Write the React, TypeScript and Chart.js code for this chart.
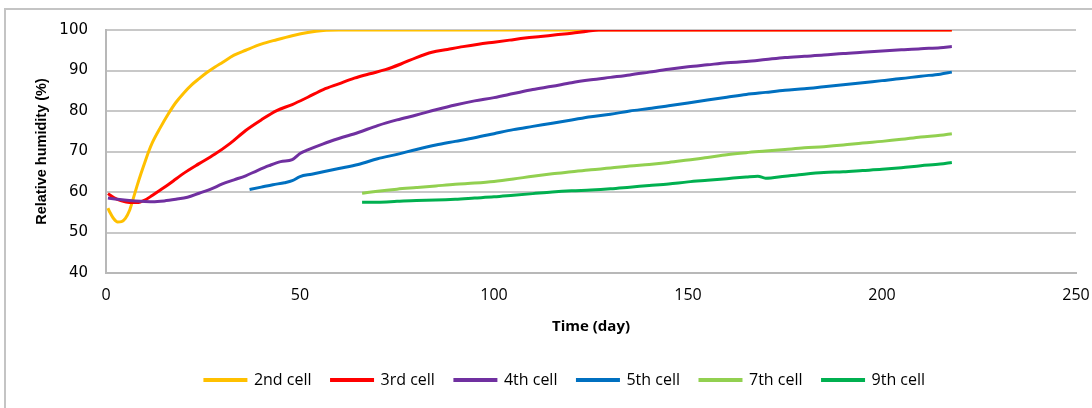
import React, { useEffect, useRef } from "react";
import { Chart, registerables } from "chart.js";

Chart.register(...registerables);

// ---- Data ----
const seriesLabels = ["2nd cell", "3rd cell", "4th cell", "5th cell", "7th cell", "9th cell"];
const seriesColors = ["#FFC000", "#FF0000", "#7030A0", "#0070C0", "#92D050", "#00B050"];

const cell2Days = [0.5, 1, 2, 3, 4, 5, 6, 7, 8, 9, 10, 11, 12, 14, 16, 18, 20, 22, 24, 26, 28, 30, 33, 36, 40, 44, 48, 52, 56, 60, 218];
const cell2RH = [56.0, 55.0, 53.4, 52.6, 52.7, 53.5, 55.3, 58.3, 61.5, 64.5, 67.3, 70.0, 72.3, 75.9, 79.2, 82.1, 84.4, 86.4, 88.0, 89.5, 90.8, 92.0, 93.8, 95.0, 96.5, 97.6, 98.6, 99.4, 99.9, 100, 100];

const cell3Days = [0.5, 2, 4, 6, 8, 10, 12, 14, 16, 18, 20, 24, 28, 32, 36, 40, 44, 48, 52, 56, 60, 64, 68, 72, 76, 80, 84, 88, 92, 96, 100, 104, 108, 112, 116, 120, 124, 127, 218];
const cell3RH = [59.6, 58.6, 57.8, 57.4, 57.4, 58.0, 59.2, 60.5, 61.8, 63.2, 64.6, 67.0, 69.3, 72.0, 75.2, 77.8, 80.1, 81.6, 83.4, 85.3, 86.7, 88.1, 89.2, 90.2, 91.6, 93.2, 94.5, 95.2, 95.9, 96.5, 97.0, 97.5, 98.0, 98.4, 98.8, 99.2, 99.7, 100, 100];

const cell4Days = [0.5, 3, 6, 9, 12, 15, 18, 21, 24, 27, 30, 33, 36, 39, 42, 45, 48, 50, 52, 56, 60, 65, 70, 75, 80, 85, 90, 95, 100, 105, 110, 115, 120, 125, 130, 135, 140, 145, 150, 155, 160, 165, 170, 175, 180, 185, 190, 195, 200, 205, 210, 215, 218];
const cell4RH = [58.5, 58.2, 57.9, 57.7, 57.6, 57.8, 58.2, 58.7, 59.7, 60.7, 62.0, 63.0, 64.0, 65.3, 66.5, 67.5, 68.0, 69.5, 70.4, 71.9, 73.2, 74.7, 76.4, 77.8, 79.0, 80.3, 81.5, 82.5, 83.3, 84.3, 85.3, 86.1, 87.0, 87.7, 88.3, 88.9, 89.6, 90.3, 90.9, 91.4, 91.9, 92.2, 92.7, 93.2, 93.5, 93.8, 94.2, 94.5, 94.8, 95.1, 95.4, 95.6, 95.9];

const cell5Days = [37, 40, 43, 46, 48, 50, 53, 56, 60, 65, 70, 75, 80, 85, 90, 95, 100, 105, 110, 115, 120, 125, 130, 135, 140, 145, 150, 155, 160, 165, 170, 175, 180, 185, 190, 195, 200, 205, 210, 215, 218];
const cell5RH = [60.6, 61.2, 61.8, 62.3, 62.8, 63.8, 64.4, 65.0, 65.8, 66.8, 68.2, 69.3, 70.5, 71.6, 72.5, 73.4, 74.4, 75.4, 76.2, 77.0, 77.8, 78.6, 79.2, 80.0, 80.6, 81.3, 82.0, 82.7, 83.4, 84.1, 84.6, 85.1, 85.5, 86.0, 86.5, 87.0, 87.5, 88.0, 88.6, 89.1, 89.6];

const cell7Days = [66, 70, 75, 80, 85, 90, 95, 100, 105, 110, 115, 120, 125, 130, 135, 140, 145, 150, 155, 160, 165, 170, 175, 180, 185, 190, 195, 200, 205, 210, 215, 218];
const cell7RH = [59.7, 60.2, 60.7, 61.1, 61.5, 61.9, 62.2, 62.6, 63.2, 63.9, 64.5, 65.0, 65.5, 65.9, 66.4, 66.8, 67.3, 67.9, 68.5, 69.2, 69.7, 70.1, 70.5, 70.9, 71.2, 71.6, 72.1, 72.5, 73.0, 73.6, 74.0, 74.4];

const cell9Days = [66, 70, 75, 80, 85, 90, 95, 100, 105, 110, 115, 120, 125, 130, 135, 140, 145, 150, 155, 160, 165, 168, 170, 175, 180, 185, 190, 195, 200, 205, 210, 215, 218];
const cell9RH = [57.5, 57.5, 57.7, 57.9, 58.0, 58.2, 58.5, 58.8, 59.2, 59.6, 60.0, 60.3, 60.5, 60.8, 61.2, 61.6, 62.0, 62.5, 62.9, 63.3, 63.7, 63.9, 63.4, 63.9, 64.4, 64.8, 65.0, 65.3, 65.6, 66.0, 66.5, 66.9, 67.3];

const xTicks = [0, 50, 100, 150, 200, 250];
const yTicks = [40, 50, 60, 70, 80, 90, 100];

const allDays = [cell2Days, cell3Days, cell4Days, cell5Days, cell7Days, cell9Days];
const allRH = [cell2RH, cell3RH, cell4RH, cell5RH, cell7RH, cell9RH];

const legendShift = {
  id: "legendShift",
  afterLayout(chart: any) {
    const lg = chart.legend;
    if (lg) {
      lg.left += 17;
      lg.right += 17;
    }
  },
};

export default function App() {
  const ref = useRef<HTMLCanvasElement | null>(null);

  useEffect(() => {
    if (!ref.current) return;
    const datasets = seriesLabels.map((label, i) => ({
      label,
      data: allDays[i].map((d, j) => ({ x: d, y: allRH[i][j] })),
      borderColor: seriesColors[i],
      backgroundColor: seriesColors[i],
      borderWidth: 3,
      pointRadius: 0,
      cubicInterpolationMode: "monotone" as const,
      order: seriesLabels.length - i,
      clip: 0,
    }));
    const chart = new Chart(ref.current, {
      type: "line",
      data: { datasets },
      plugins: [legendShift],
      options: {
        animation: false,
        responsive: false,
        devicePixelRatio: 1,
        layout: { padding: { left: 20, right: 16, top: 30, bottom: 10 } },
        scales: {
          x: {
            type: "linear",
            min: 0,
            max: 250,
            afterBuildTicks: (axis: any) => {
              axis.ticks = xTicks.map((v) => ({ value: v }));
            },
            afterFit: (axis: any) => {
              axis.paddingLeft = 0;
              axis.paddingRight = 16;
            },
            grid: { display: false, drawTicks: false },
            border: { display: true, color: "#b8b8b8", width: 2 },
            ticks: {
              padding: 14,
              color: "#000",
              font: { family: "'Open Sans', sans-serif", size: 16, lineHeight: 1 },
            },
            title: {
              display: true,
              text: "Time (day)",
              color: "#000",
              font: { family: "'Open Sans', sans-serif", size: 15, weight: "bold" },
              padding: { top: 1, bottom: 16 },
            },
          },
          y: {
            type: "linear",
            min: 40,
            max: 100,
            afterBuildTicks: (axis: any) => {
              axis.ticks = yTicks.map((v) => ({ value: v }));
            },
            afterFit: (axis: any) => {
              axis.width = 86;
            },
            grid: { color: "#c8c8c8", lineWidth: 2, drawTicks: false },
            border: { display: true, color: "#b8b8b8", width: 2 },
            ticks: {
              padding: 18,
              color: "#000",
              font: { family: "'DejaVu Sans', sans-serif", size: 15 },
            },
            title: {
              display: true,
              text: "Relative humidity (%)",
              color: "#000",
              font: { family: "'Liberation Sans', Arial, sans-serif", size: 14.5, weight: "bold" },
              padding: { top: 13, bottom: 8 },
            },
          },
        },
        plugins: {
          legend: {
            position: "bottom",
            labels: {
              boxWidth: 41,
              boxHeight: 1,
              padding: 20,
              color: "#000",
              font: { family: "'Open Sans', sans-serif", size: 16 },
              sort: (a: any, b: any) => a.datasetIndex - b.datasetIndex,
            },
          },
          tooltip: { enabled: false },
        },
      },
    } as any);
    return () => chart.destroy();
  }, []);

  return (
    <div
      style={{
        position: "fixed",
        left: 0,
        top: 0,
        width: 1092,
        height: 408,
        overflow: "hidden",
        background: "#fff",
      }}
    >
      <div
        style={{
          position: "absolute",
          left: 4,
          top: 8,
          width: 1200,
          height: 500,
          borderTop: "2px solid #c4c4c4",
          borderLeft: "2px solid #c4c4c4",
        }}
      />
      <canvas
        ref={ref}
        width={1092}
        height={408}
        style={{ position: "absolute", left: 0, top: 0 }}
      />
    </div>
  );
}
